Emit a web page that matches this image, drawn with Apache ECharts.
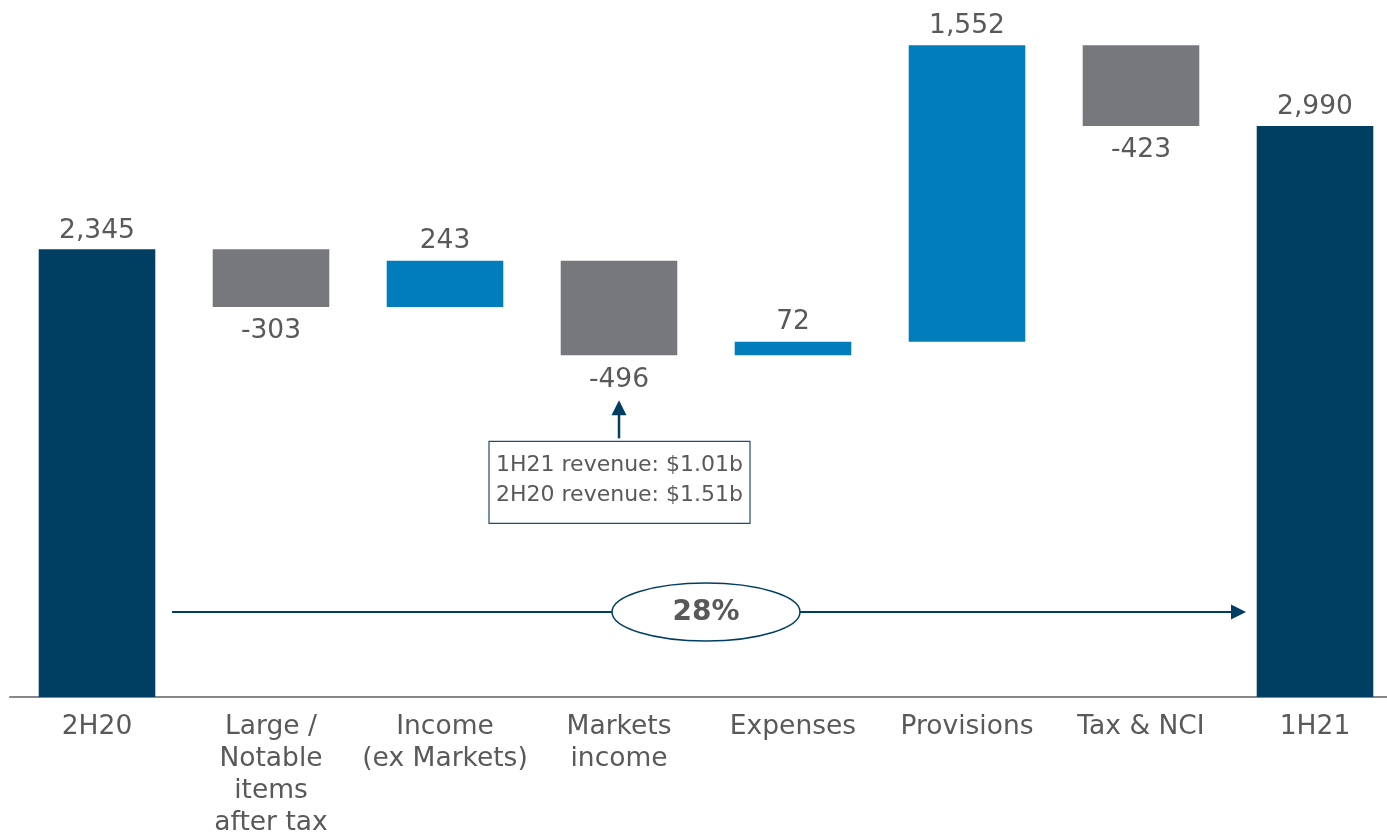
<!DOCTYPE html>
<html>
<head>
<meta charset="utf-8">
<script src="https://cdn.jsdelivr.net/npm/echarts@6/dist/echarts.min.js"></script>
<style>
html,body{margin:0;padding:0;background:#fff;}
#c{width:1387px;height:832px;}
</style>
</head>
<body>
<div id="c"></div>
<script>
const categories = ['2H20', 'Large /\nNotable\nitems\nafter tax', 'Income\n(ex Markets)', 'Markets\nincome', 'Expenses', 'Provisions', 'Tax & NCI', '1H21'];
const startValue = 2345;
const deltas = [-303, 243, -496, 72, 1552, -423];
const endValue = 2990;
const annotationLines = ['1H21 revenue: $1.01b', '2H20 revenue: $1.51b'];
const growthLabel = '28%';

const NAVY = '#003F62', BLUE = '#007DBA', GREY = '#77787B', TXT = '#595959';
const FONT = 'DejaVu Sans';

function fmt(v) { return String(v).replace(/\B(?=(\d{3})+(?!\d))/g, ','); }

const baseData = ['-'], upData = ['-'], downData = ['-'], totalData = [startValue];
let running = startValue;
deltas.forEach(d => {
  const next = running + d;
  baseData.push(Math.min(running, next));
  if (d >= 0) { upData.push(d); downData.push('-'); }
  else { downData.push(-d); upData.push('-'); }
  totalData.push('-');
  running = next;
});
baseData.push('-'); upData.push('-'); downData.push('-'); totalData.push(endValue);

const labelBase = { show: true, color: TXT, fontSize: 26.5, fontFamily: FONT };

const chart = echarts.init(document.getElementById('c'));
chart.setOption({
  animation: false,
  grid: { left: 10, right: -15, top: 0, bottom: 135, containLabel: false, outerBoundsMode: 'none' },
  xAxis: {
    type: 'category',
    data: categories,
    axisLine: { show: true, lineStyle: { color: '#878787', width: 2 } },
    axisTick: { show: false },
    axisLabel: { color: TXT, fontSize: 26.5, fontFamily: FONT, lineHeight: 32, margin: 14, interval: 0, hideOverlap: false }
  },
  yAxis: { type: 'value', min: 0, max: 3650, show: false, splitLine: { show: false } },
  series: [
    { type: 'bar', stack: 'w', data: baseData, barWidth: '67%', itemStyle: { color: 'transparent' }, silent: true },
    { type: 'bar', stack: 'w', data: totalData, itemStyle: { color: NAVY },
      label: Object.assign({}, labelBase, { position: 'top', distance: 5, formatter: p => fmt(p.value) }) },
    { type: 'bar', stack: 'w', data: upData, itemStyle: { color: BLUE },
      label: Object.assign({}, labelBase, { position: 'top', distance: 6, formatter: p => fmt(p.value) }) },
    { type: 'bar', stack: 'w', data: downData, itemStyle: { color: GREY },
      label: Object.assign({}, labelBase, { position: 'bottom', distance: 11, formatter: p => '-' + fmt(p.value) }) }
  ]
});

const px = (i, v) => chart.convertToPixel({ gridIndex: 0 }, [i, v]);
const mIdx = 3;
const mx = px(mIdx, 0)[0];
const mBottom = px(mIdx, baseData[mIdx])[1];
const tipY = mBottom + 45;
const shaftEnd = mBottom + 83;
const boxTop = mBottom + 86;
const boxW = 261, boxH = 82;
const baseY = px(0, 0)[1];
const ex = (px(3, 0)[0] + px(4, 0)[0]) / 2;
const ey = baseY - 85;
const lineStart = px(0, 0)[0] + 75;
const lineEnd = px(categories.length - 1, 0)[0] - 69;

chart.setOption({
  graphic: [
    { type: 'line', shape: { x1: mx, y1: shaftEnd, x2: mx, y2: tipY + 10 }, style: { stroke: NAVY, lineWidth: 2.5 } },
    { type: 'polygon', shape: { points: [[mx, tipY], [mx - 7.5, tipY + 15], [mx + 7.5, tipY + 15]] }, style: { fill: NAVY } },
    { type: 'rect', shape: { x: mx - 130, y: boxTop, width: boxW, height: boxH }, style: { fill: '#fff', stroke: '#1F4E6E', lineWidth: 1.2 } },
    { type: 'text', style: { x: mx + 0.5, y: boxTop + 24, text: annotationLines[0], fill: TXT, fontSize: 22, fontFamily: FONT, align: 'center', verticalAlign: 'middle' } },
    { type: 'text', style: { x: mx + 0.5, y: boxTop + 54, text: annotationLines[1], fill: TXT, fontSize: 22, fontFamily: FONT, align: 'center', verticalAlign: 'middle' } },
    { type: 'line', shape: { x1: lineStart, y1: ey, x2: lineEnd - 10, y2: ey }, style: { stroke: NAVY, lineWidth: 2 } },
    { type: 'polygon', shape: { points: [[lineEnd, ey], [lineEnd - 15, ey - 7.5], [lineEnd - 15, ey + 7.5]] }, style: { fill: NAVY } },
    { type: 'ellipse', shape: { cx: ex, cy: ey, rx: 94, ry: 29 }, style: { fill: '#fff', stroke: NAVY, lineWidth: 1.5 } },
    { type: 'text', style: { x: ex, y: ey + 1, text: growthLabel, fill: TXT, fontSize: 28, fontWeight: 'bold', fontFamily: FONT, align: 'center', verticalAlign: 'middle' } }
  ]
});
</script>
</body>
</html>
